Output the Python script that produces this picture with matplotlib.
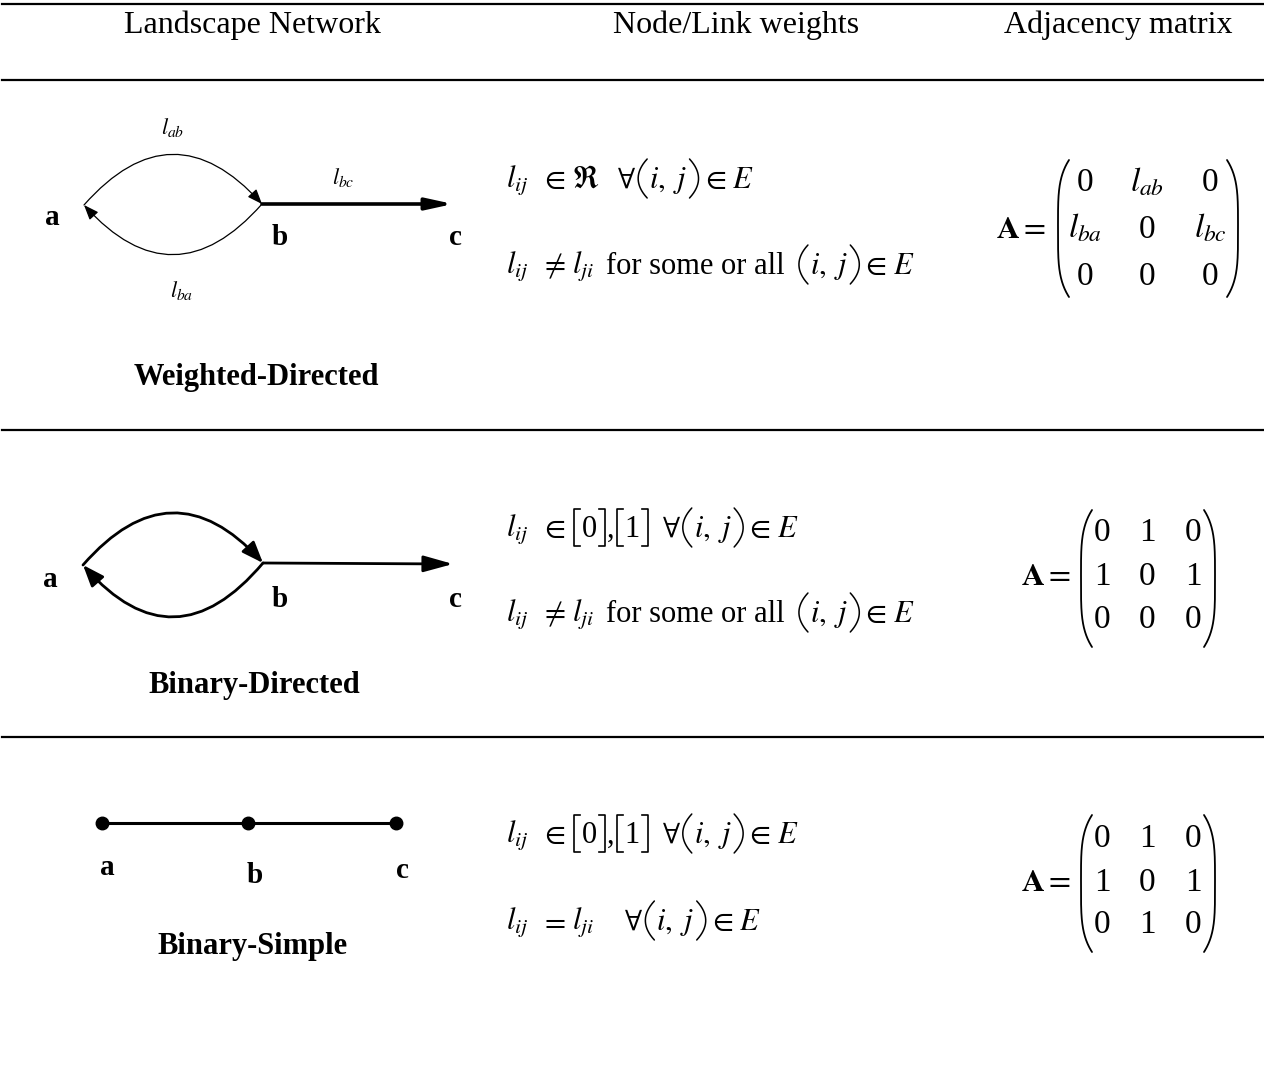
import numpy as np
import matplotlib
matplotlib.use("Agg")
import matplotlib.pyplot as plt
from matplotlib.patches import FancyArrowPatch

#字型: Times 風格
plt.rcParams["font.family"] = ["Liberation Serif", "DejaVu Serif"]
plt.rcParams["mathtext.fontset"] = "stix"

#表格內容
headers = ["Landscape Network", "Node/Link weights", "Adjacency matrix"]
network_names = ["Weighted-Directed", "Binary-Directed", "Binary-Simple"]
node_names = ["a", "b", "c"]
edge_labels = [r"$l_{ab}$", r"$l_{bc}$", r"$l_{ba}$"]

#公式符號: "~" 為空白, "(" ")" "[" "]" 為大括號
L_IJ, L_JI = r"$l_{ij}$", r"$l_{ji}$"
IN_E = ["(", r"$i,\ j$", ")", r"$\in$", "~", r"$E$"]
rules_weighted = [
    [L_IJ, "~~", r"$\in$", "~", r"$\Re$", "~~~", r"$\forall$"] + IN_E,
    [L_IJ, "~~", r"$\neq$", "~", L_JI, "~~", "for some or all", "~~"] + IN_E,
]
rules_binary_directed = [
    [L_IJ, "~~", r"$\in$", "~", "[", "0", "]", ",", "[", "1", "]", "~~", r"$\forall$"] + IN_E,
    [L_IJ, "~~", r"$\neq$", "~", L_JI, "~~", "for some or all", "~~"] + IN_E,
]
rules_binary_simple = [
    [L_IJ, "~~", r"$\in$", "~", "[", "0", "]", ",", "[", "1", "]", "~~", r"$\forall$"] + IN_E,
    [L_IJ, "~~", r"$=$", "~", L_JI, "~~~~~", r"$\forall$"] + IN_E,
]

matrix_weighted = [["0", r"$l_{ab}$", "0"],
                   [r"$l_{ba}$", "0", r"$l_{bc}$"],
                   ["0", "0", "0"]]
matrix_binary_directed = [[0, 1, 0],
                          [1, 0, 1],
                          [0, 0, 0]]
matrix_binary_simple = [[0, 1, 0],
                        [1, 0, 1],
                        [0, 1, 0]]

SPACE = 6       #"~" 的寬度(px)
FS_RULE = 22


def paren(ax, x, top, bottom, w, side, lw=1.3, p=4):
    t = np.linspace(0, 1, 200)
    s = np.abs(2 * t - 1) ** p
    y = top + (bottom - top) * t
    xs = x + w * s if side == "left" else x - w * s
    ax.plot(xs, y, color="black", lw=lw, solid_capstyle="round")


def bracket(ax, x, top, bottom, w, side, lw=1.2):
    d = w if side == "left" else -w
    ax.plot([x + d, x, x, x + d], [top, top, bottom, bottom], color="black", lw=lw)


def typeset(ax, x, y, tokens, renderer):
    for tok in tokens:
        if set(tok) == {"~"}:
            x += SPACE * len(tok)
        elif tok in ("(", ")"):
            side = "left" if tok == "(" else "right"
            x += 2
            paren(ax, x if side == "left" else x + 9, y - 29, y + 10, 9, side, lw=1.1, p=2)
            x += 11
        elif tok in ("[", "]"):
            side = "left" if tok == "[" else "right"
            x += 2
            bracket(ax, x if side == "left" else x + 6, y - 28, y + 9, 6, side)
            x += 8
        else:
            t = ax.text(x, y, tok, fontsize=FS_RULE, ha="left", va="baseline")
            x += t.get_window_extent(renderer=renderer).width


def draw_matrix(ax, m, a_right, cols, rows, p_left, p_right, p_top, p_bottom):
    ax.text(a_right, rows[1], r"$\mathbf{A}=$", fontsize=23, ha="right", va="baseline")
    for i, row in enumerate(m):
        for j, v in enumerate(row):
            ax.text(cols[j], rows[i], str(v), fontsize=24, ha="center", va="baseline")
    paren(ax, p_left, p_top, p_bottom, 11, "left")
    paren(ax, p_right, p_top, p_bottom, 11, "right")


def arrow(ax, p1, p2, rad, lw, hl, hw):
    ax.add_patch(FancyArrowPatch(
        p1, p2,
        connectionstyle=f"arc3,rad={rad}",
        arrowstyle=f"-|>,head_length={hl},head_width={hw}",
        lw=lw, color="black", shrinkA=0, shrinkB=0, mutation_scale=1
    ))


fig = plt.figure(figsize=(12.64, 10.69), dpi=100)
ax = fig.add_axes([0, 0, 1, 1])
ax.set_xlim(0, 1264)
ax.set_ylim(1069, 0)
ax.axis("off")
renderer = fig.canvas.get_renderer()

#水平線
for y in [4, 80, 430, 737]:
    ax.plot([2, 1264], [y, y], color="black", lw=1.6)

#標題列
for x, h in zip([252, 736, 1118], headers):
    ax.text(x, 33, h, fontsize=23, ha="center", va="baseline")

#第一列: Weighted-Directed
a1, b1, c1 = (84, 205), (262, 204), (453, 204)
arrow(ax, a1, b1, -0.56, 0.9, 9, 3.5)
arrow(ax, b1, a1, -0.56, 0.9, 9, 3.5)
arrow(ax, b1, c1, 0, 2.6, 16, 3.5)
for (x, y), lab in zip([(173, 134), (343, 184), (182, 297)], edge_labels):
    ax.text(x, y, lab, fontsize=16, ha="center", va="baseline")

#第二列: Binary-Directed
a2, b2, c2 = (83, 565), (263, 563), (453, 564)
arrow(ax, a2, b2, -0.56, 2.0, 13, 5)
arrow(ax, b2, a2, -0.58, 2.0, 13, 5)
arrow(ax, b2, c2, 0, 2.0, 18, 5)

#第三列: Binary-Simple
xs3 = [102, 248, 396]
ax.plot(xs3, [823] * 3, color="black", lw=2.2, marker="o", markersize=9)

#節點標籤
node_pos = [
    [(52, 225), (280, 245), (455, 245)],
    [(50, 587), (280, 607), (455, 607)],
    [(107, 875), (255, 883), (402, 878)],
]
for row in node_pos:
    for (x, y), n in zip(row, node_names):
        ax.text(x, y, n, fontsize=21, fontweight="bold", ha="center", va="baseline")

#網路名稱
for (x, y), name in zip([(256, 385), (254, 693), (252, 954)], network_names):
    ax.text(x, y, name, fontsize=22, fontweight="bold", ha="center", va="baseline")

#連結權重規則
for rules, ys in zip([rules_weighted, rules_binary_directed, rules_binary_simple],
                     [(188, 274), (537, 622), (843, 930)]):
    for r, y in zip(rules, ys):
        typeset(ax, 506, y, r, renderer)

#鄰接矩陣
draw_matrix(ax, matrix_weighted, 1046, [1085, 1147, 1210], [191, 238, 285],
            1058, 1238, 160, 297)
draw_matrix(ax, matrix_binary_directed, 1071, [1102, 1147, 1193], [541, 585, 628],
            1081, 1215, 510, 647)
draw_matrix(ax, matrix_binary_simple, 1071, [1102, 1147, 1193], [847, 891, 933],
            1081, 1215, 815, 952)

fig.savefig("out.png", dpi=100)
